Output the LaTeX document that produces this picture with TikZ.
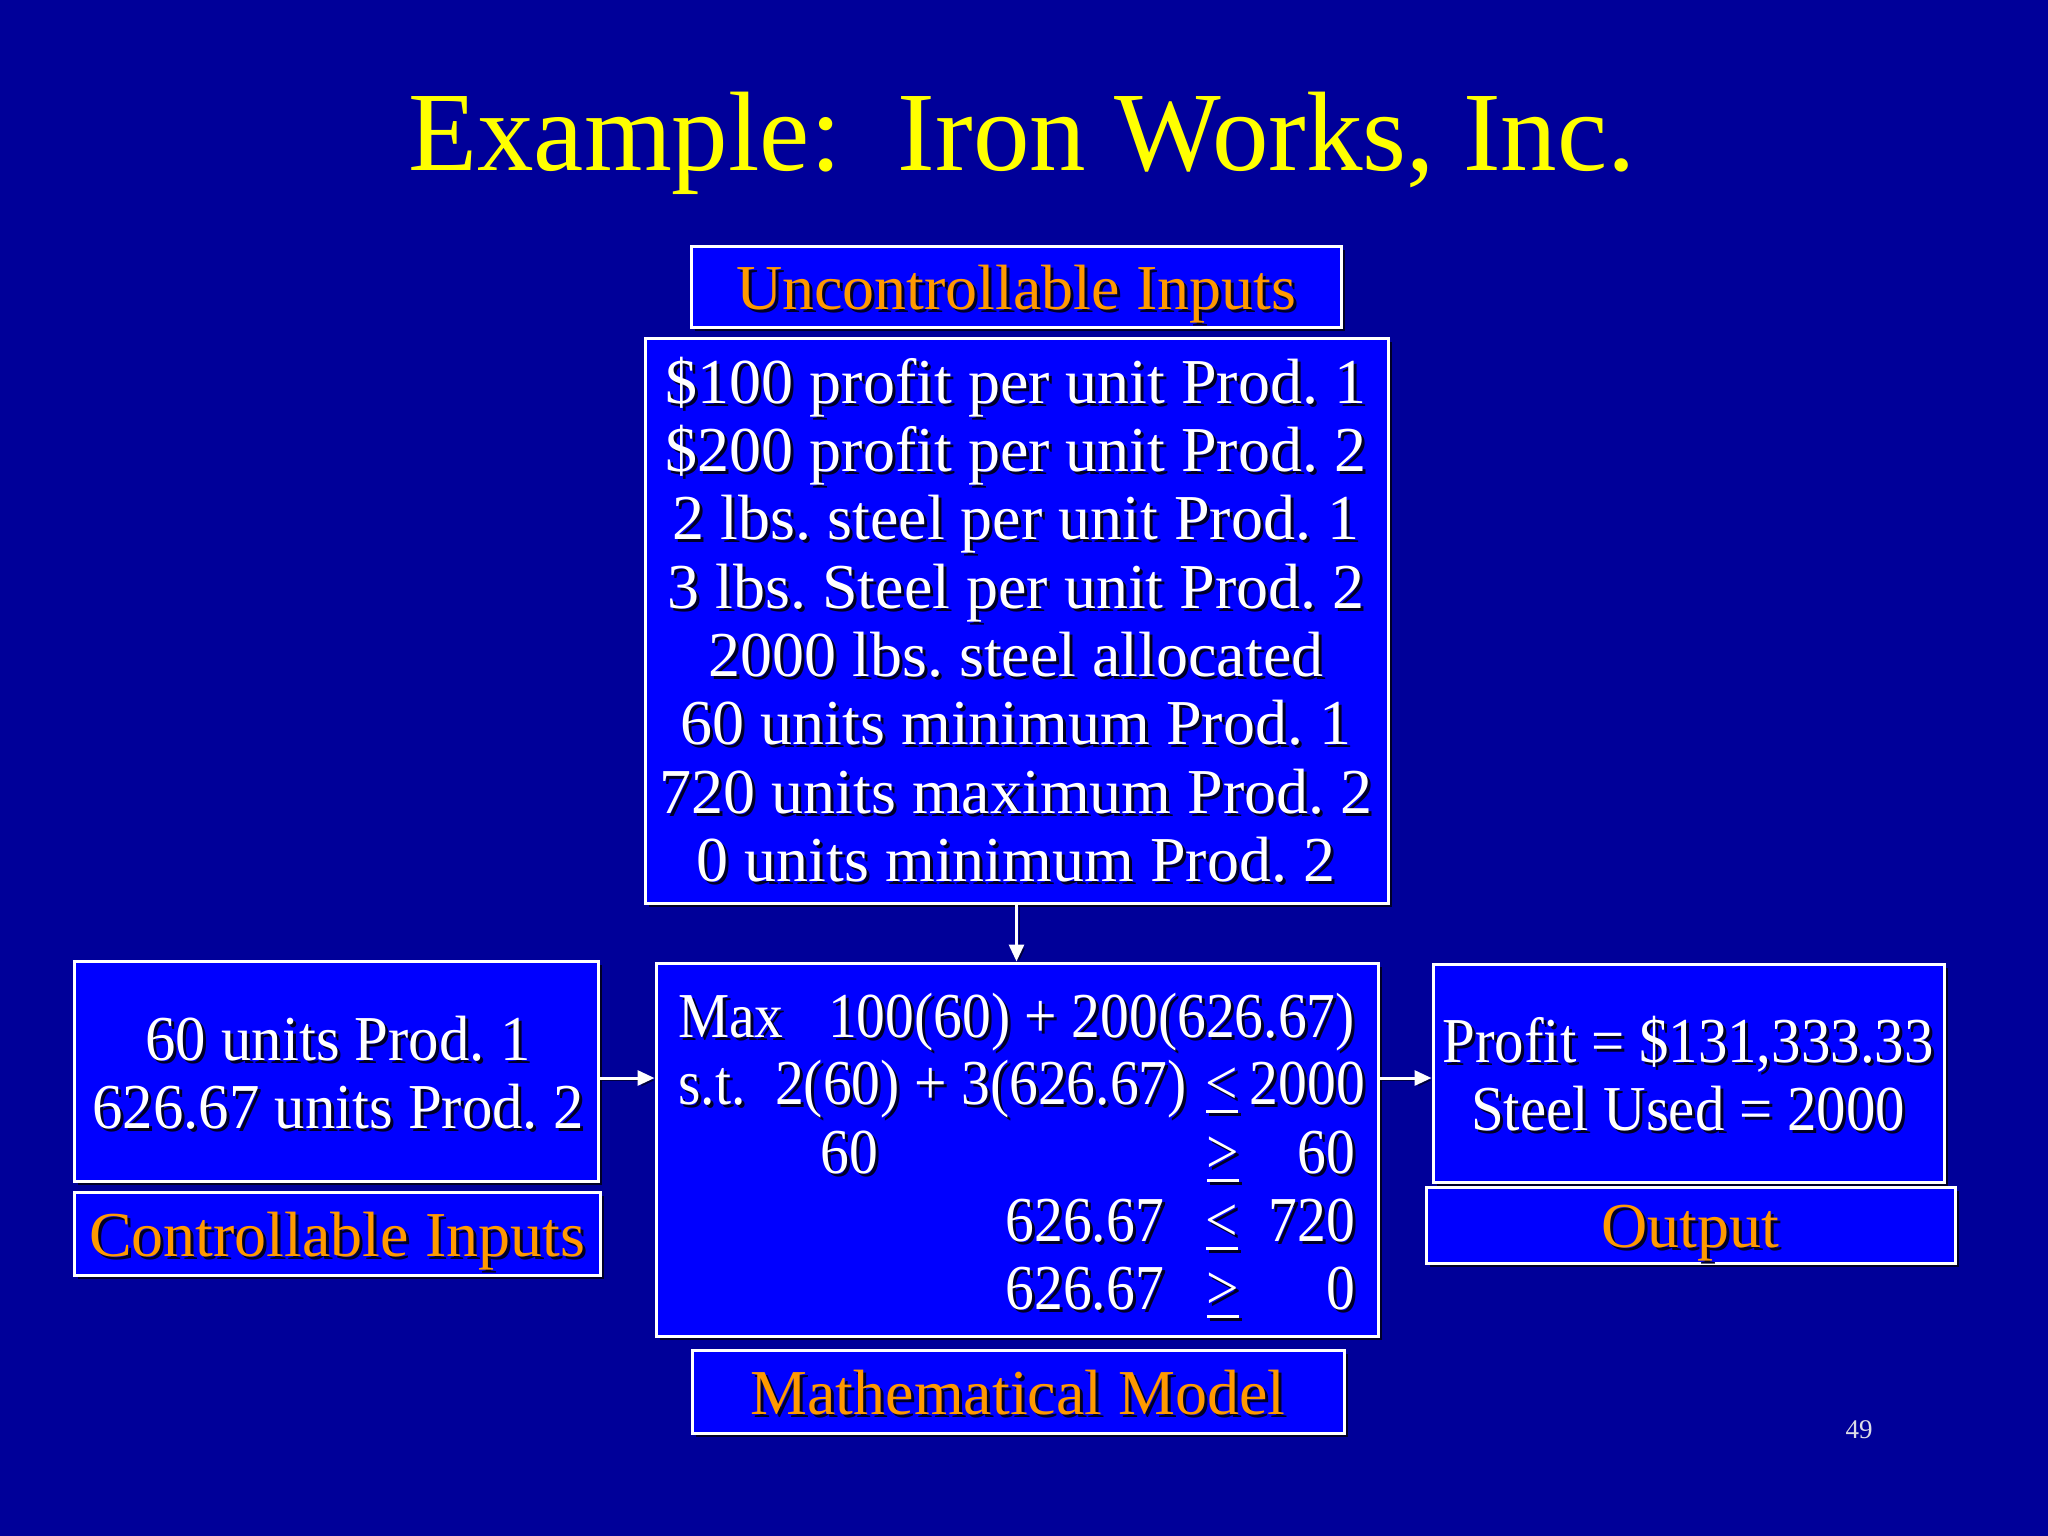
\documentclass[tikz,border=0pt]{standalone}
\usepackage{fontspec}
\setmainfont{Liberation Serif}
\newfontfamily\fsmodel[FakeStretch=0.90]{Liberation Serif}
\newfontfamily\fsctrl[FakeStretch=0.95]{Liberation Serif}
\newfontfamily\fsout[FakeStretch=0.92]{Liberation Serif}
\usetikzlibrary{shadows,arrows.meta}
\definecolor{navy}{RGB}{0,0,153}
\definecolor{boxblue}{RGB}{0,0,255}
\definecolor{lblorange}{RGB}{255,153,0}
\definecolor{titleyellow}{RGB}{255,255,0}
\definecolor{shadowc}{RGB}{0,0,40}
\definecolor{pagegray}{RGB}{220,220,230}
\frenchspacing
\newcommand\sh[1]{\makebox[0pt][l]{\hspace{3pt}\raisebox{-3pt}{\textcolor{shadowc}{#1}}}#1}
\newcommand\shl[1]{\strut\sh{#1}}
\newcommand\ulsym[1]{\leavevmode\vtop{\hbox{#1}\kern6pt\hrule height 3pt}}
\tikzset{
  panel/.style={draw=white, line width=3pt, fill=boxblue, inner sep=0pt,
    drop shadow={shadow xshift=4pt, shadow yshift=-4pt, fill=black, opacity=0.75}},
  lbl/.style={panel, text=lblorange, font=\fontsize{64}{68.3}\selectfont,
    text height=52pt, text depth=7pt},
  body/.style={text=white, inner sep=0pt, align=center, font=\fontsize{64}{68.3}\selectfont},
  mtext/.style={text=white, inner sep=0pt, font=\fsmodel\fontsize{64}{68.3}\selectfont},
  arr/.style={draw=white, line width=3pt, -{Triangle[length=17pt,width=15pt]},
    preaction={draw=shadowc, opacity=0.8, transform canvas={xshift=2.5pt,yshift=-2.5pt}}}
}
\begin{document}
\begin{tikzpicture}[x=1pt,y=-1pt]
\fill[navy] (0,0) rectangle (2048,1536);
\useasboundingbox (0,0) rectangle (2048,1536);

\node[anchor=base, text=titleyellow, inner sep=0pt,
  font=\fontsize{113}{120}\selectfont] (title) at (1022,170) {Example:\ \ Iron Works, Inc.};

% boxes
\node[lbl, minimum width=650pt, minimum height=81pt] (unclbl) at (1016,286.5) {\sh{Uncontrollable Inputs}};
\node[panel, minimum width=743pt, minimum height=565pt] (unc) at (1016.5,620.5) {};
\node[panel, minimum width=524pt, minimum height=220pt] (ctrl) at (336,1071) {};
\node[lbl, minimum width=526pt, minimum height=83pt] (ctrllbl) at (337,1233.5) {\sh{Controllable Inputs}};
\node[panel, minimum width=722pt, minimum height=373pt] (model) at (1017,1149.5) {};
\node[lbl, minimum width=652pt, minimum height=83pt] (modellbl) at (1018,1391.5) {\sh{Mathematical Model}};
\node[panel, minimum width=511pt, minimum height=218pt] (out) at (1688.5,1073) {};
\node[lbl, minimum width=529pt, minimum height=76pt] (outlbl) at (1690.5,1225) {\sh{Output}};

% uncontrollable inputs text
\node[body, anchor=north] (unctext) at (1016,355.2) {%
\shl{\$100 profit per unit Prod. 1}\\
\shl{\$200 profit per unit Prod. 2}\\
\shl{2 lbs. steel per unit Prod. 1}\\
\shl{3 lbs. Steel per unit Prod. 2}\\
\shl{2000 lbs. steel allocated}\\
\shl{60 units minimum Prod. 1}\\
\shl{720 units maximum Prod. 2}\\
\shl{0 units minimum Prod. 2}};

% controllable inputs text
\node[body, anchor=north, font=\fsctrl\fontsize{64}{68}\selectfont] (ctrltext) at (338,1012.2) {%
\shl{60 units Prod. 1}\\
\shl{626.67 units Prod. 2}};

% output text
\node[body, anchor=north, font=\fsout\fontsize{64}{68}\selectfont] (outtext) at (1688,1014.2) {%
\shl{Profit = \$131,333.33}\\
\shl{Steel Used = 2000}};

% model text
\node[mtext, anchor=base west] (mmax) at (678,1037) {\sh{Max}};
\node[mtext, anchor=base east] (mobj) at (1355,1037) {\sh{100(60) + 200(626.67)}};
\node[mtext, anchor=base west] (mst) at (678,1104) {\sh{s.t.}};
\node[mtext, anchor=base east] (mc1) at (1187,1104) {\sh{2(60) + 3(626.67)}};
\node[mtext, anchor=base] (mr1) at (1222,1104) {\sh{\ulsym{<}}};
\node[mtext, anchor=base east] (mb1) at (1365,1104) {\sh{2000}};
\node[mtext, anchor=base] (mc2) at (849,1173) {\sh{60}};
\node[mtext, anchor=base] (mr2) at (1223,1173) {\sh{\ulsym{>}}};
\node[mtext, anchor=base east] (mb2) at (1355,1173) {\sh{60}};
\node[mtext, anchor=base east] (mc3) at (1164,1241) {\sh{626.67}};
\node[mtext, anchor=base] (mr3) at (1222,1241) {\sh{\ulsym{<}}};
\node[mtext, anchor=base east] (mb3) at (1355,1241) {\sh{720}};
\node[mtext, anchor=base east] (mc4) at (1164,1309) {\sh{626.67}};
\node[mtext, anchor=base] (mr4) at (1223,1309) {\sh{\ulsym{>}}};
\node[mtext, anchor=base east] (mb4) at (1355,1309) {\sh{0}};

% connectors
\draw[arr] (unc.south) -- (unc.south |- model.north);
\draw[arr] ([yshift=-7pt]ctrl.east) -- ([yshift=-7pt]ctrl.east -| model.west);
\draw[arr] ([yshift=-5pt]out.west -| model.east) -- ([yshift=-5pt]out.west);

% page number
\node[anchor=base, text=pagegray, inner sep=0pt, font=\fontsize{27}{30}\selectfont] (pnum) at (1859,1438) {49};
\end{tikzpicture}
\end{document}
